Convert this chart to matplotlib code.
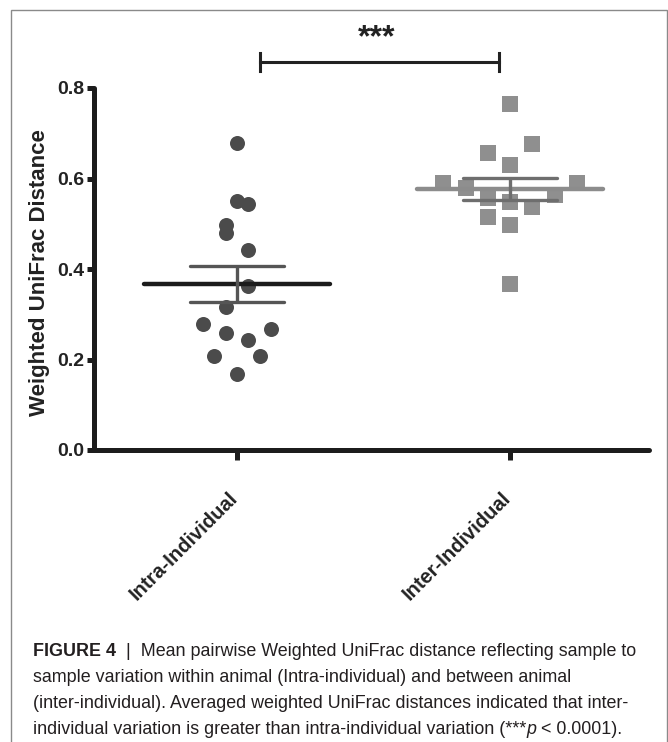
import matplotlib
matplotlib.use("Agg")
import matplotlib.pyplot as plt
import numpy as np
from matplotlib.patches import Rectangle
from matplotlib.transforms import ScaledTranslation

# values
GROUPS = ["Intra-Individual", "Inter-Individual"]
INTRA = [0.678, 0.551, 0.544, 0.497, 0.480, 0.443, 0.362, 0.315,
         0.278, 0.259, 0.267, 0.243, 0.208, 0.208, 0.167]
INTRA_COL = [0, 0, 1, -1, -1, 1, 1, -1, -3, -1, 3, 1, -2, 2, 0]
INTER = [0.764, 0.676, 0.656, 0.630, 0.589, 0.589, 0.578, 0.558,
         0.547, 0.538, 0.564, 0.514, 0.497, 0.367]
INTER_COL = [0, 1, -1, 0, -3, 3, -2, -1, 0, 1, 2, -1, 0, 0]
Y_TICKS = [0.0, 0.2, 0.4, 0.6, 0.8]
SIG_LABEL = "***"

FONT = ["Liberation Sans", "DejaVu Sans"]

fig = plt.figure(figsize=(6.68, 7.42), dpi=100)
fig.patches.append(Rectangle((11 / 668, -0.01), 655.5 / 668, 1 - 10 / 742 + 0.01,
                             transform=fig.transFigure, fill=False,
                             edgecolor="#8a8a8a", linewidth=1.0))

ax = fig.add_axes([94 / 668, 292 / 742, 555 / 668, 362 / 742])
ax.set_xlim(-0.524, 1.509)
ax.set_ylim(0, 0.8)


def draw_group(x0, vals, cols, step, marker, color, mean_color, sem_color, ms):
    vals = np.array(vals)
    xs = x0 + np.array(cols) * step
    ax.plot(xs, vals, linestyle="none", marker=marker, markersize=ms,
            color=color, markeredgewidth=0, zorder=3, clip_on=False)
    m = vals.mean()
    sem = vals.std(ddof=1) / np.sqrt(len(vals))
    ax.hlines(m, x0 - 0.34, x0 + 0.34, color=mean_color, linewidth=3.2,
              capstyle="round", zorder=4)
    ax.hlines([m - sem, m + sem], x0 - 0.172, x0 + 0.172, color=sem_color,
              linewidth=2.4, capstyle="round", zorder=4)
    ax.vlines(x0, m - sem, m + sem, color=sem_color, linewidth=2.4, zorder=4)


draw_group(0, INTRA, INTRA_COL, 0.0415, "o", "#4b4b4b", "#1c1c1c", "#555555", 10.8)
draw_group(1, INTER, INTER_COL, 0.0815, "s", "#8f8f8f", "#8c8c8c", "#6e6e6e", 11.2)

for side in ["top", "right"]:
    ax.spines[side].set_visible(False)
for side in ["left", "bottom"]:
    ax.spines[side].set_linewidth(3.6)
    ax.spines[side].set_color("#1c1c1c")
    ax.spines[side].set_capstyle("round")

ax.set_yticks(Y_TICKS)
ax.set_yticklabels([f"{t:.1f}" for t in Y_TICKS], fontsize=14,
                   fontweight="bold", family=FONT, color="#222222")
ax.set_xticks([0, 1])
ax.set_xticklabels(GROUPS, rotation=45, ha="right", rotation_mode="anchor",
                   fontsize=14.5, fontweight="bold", family=FONT, color="#222222")
ax.tick_params(axis="y", length=5, width=3.6, color="#1c1c1c", pad=2)
ax.tick_params(axis="x", length=7, width=3.6, color="#1c1c1c", pad=24)
shift = ScaledTranslation(-9 / 100, 5 / 100, fig.dpi_scale_trans)
for lbl in ax.get_xticklabels():
    lbl.set_transform(lbl.get_transform() + shift)
ax.set_ylabel("Weighted UniFrac Distance", fontsize=16, fontweight="bold",
              family=FONT, color="#222222", labelpad=6)
ax.yaxis.set_label_coords(-0.08, 0.49)

# significance bracket
bx0, bx1, by = 0.085, 0.96, 0.857
ax.plot([bx0, bx1], [by, by], color="#222222", linewidth=2.2, clip_on=False)
ax.plot([bx0, bx0], [by - 0.02, by + 0.02], color="#222222", linewidth=2.2, clip_on=False)
ax.plot([bx1, bx1], [by - 0.02, by + 0.02], color="#222222", linewidth=2.2, clip_on=False)
ax.text(0.51, 0.91, SIG_LABEL, ha="center", va="center", fontsize=23,
        fontweight="bold", family=FONT, color="#222222", clip_on=False)

# caption
fig.canvas.draw()
renderer = fig.canvas.get_renderer()


def put_line(y_px, pieces):
    x = 33 / 668
    for txt, kw in pieces:
        t = fig.text(x, 1 - y_px / 742, txt, ha="left", va="baseline",
                     fontsize=12.9, family=FONT, color="#231f20", **kw)
        bb = t.get_window_extent(renderer=renderer)
        x = bb.x1 / fig.bbox.width


put_line(656, [("FIGURE 4", {"fontweight": "bold"}),
               ("  |  Mean pairwise Weighted UniFrac distance reflecting sample to", {})])
put_line(682, [("sample variation within animal (Intra-individual) and between animal", {})])
put_line(708, [("(inter-individual). Averaged weighted UniFrac distances indicated that inter-", {})])
put_line(734, [("individual variation is greater than intra-individual variation (***", {}),
               ("p", {"style": "italic"}),
               (" < 0.0001).", {})])

fig.savefig("out.png", dpi=100)
